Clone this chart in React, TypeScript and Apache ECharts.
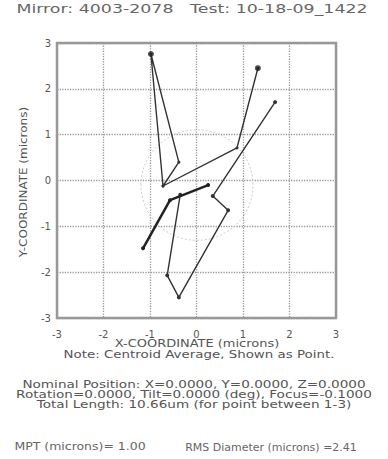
import React, { useEffect, useRef } from "react";
import * as echarts from "echarts";

const titleText = "Mirror: 4003-2078   Test: 10-18-09_1422";
const xName = "X-COORDINATE (microns)";
const yName = "Y-COORDINATE (microns)";
const noteText = "Note: Centroid Average, Shown as Point.";
// point path segments (microns)
const runA: [number, number][] = [
  [-0.72, -0.12], [-0.98, 2.76], [-0.38, 0.40], [-0.72, -0.12], [0.87, 0.71], [1.32, 2.45],
];
const runB: [number, number][] = [
  [1.69, 1.71], [0.35, -0.34], [0.68, -0.65], [-0.38, -2.55], [-0.63, -2.07], [-0.35, -0.31],
];
const runC: [number, number][] = [
  [-1.15, -1.48], [-0.57, -0.43], [0.25, -0.10],
];
const endPoints: [number, number][] = [[-0.98, 2.76], [1.32, 2.45]];
const rmsCenter: [number, number] = [0.01, -0.1];
const rmsDiameter = 2.41;
const mpt = "1.00";
const noteLines = [
  "Nominal Position: X=0.0000, Y=0.0000, Z=0.0000",
  "Rotation=0.0000, Tilt=0.0000 (deg), Focus=-0.1000",
  "Total Length: 10.66um (for point between 1-3)",
];

export default function App() {
  const ref = useRef<HTMLDivElement>(null);
  useEffect(() => {
    if (!ref.current) return;
    const chart = echarts.init(ref.current, undefined, { renderer: "svg" });
    const font = "'DejaVu Sans', sans-serif";
    const lineStyle = { color: "#333", width: 1.4 };
    const txt = (text: string, x: number, y: number, size: number, sx: number, fill = "#555", rot = 0) => ({
      type: "text", x, y, scaleX: sx, rotation: rot,
      style: { text, font: `${size}px ${font}`, fill, align: "center", verticalAlign: "middle", textAlign: "center", textVerticalAlign: "middle" },
    });
    chart.setOption({
      animation: false,
      backgroundColor: "#fff",
      textStyle: { fontFamily: font },
      grid: { left: 57, top: 43, width: 279, height: 275, show: true, borderColor: "#999", borderWidth: 2.5 },
      xAxis: {
        type: "value", min: -3, max: 3, interval: 1,
        axisLine: { show: false }, axisTick: { show: false },
        axisLabel: { fontSize: 10, color: "#555", margin: 11 },
        splitLine: { show: true, lineStyle: { color: "#999", type: "dotted", width: 1.3 } },
      },
      yAxis: {
        type: "value", min: -3, max: 3, interval: 1,
        axisLine: { show: false }, axisTick: { show: false },
        axisLabel: { fontSize: 10, color: "#555", margin: 6 },
        splitLine: { show: true, lineStyle: { color: "#999", type: "dotted", width: 1.3 } },
      },
      series: [
        {
          type: "custom",
          silent: true,
          data: [[rmsCenter[0], rmsCenter[1], rmsDiameter]],
          renderItem: (params: any, api: any) => {
            const c = api.coord([api.value(0), api.value(1)]);
            const s = api.size([api.value(2) / 2, api.value(2) / 2]);
            return {
              type: "ellipse",
              shape: { cx: c[0], cy: c[1], rx: s[0], ry: s[1] },
              style: { fill: "none", stroke: "#ccc", lineWidth: 1, lineDash: [2, 2] },
            };
          },
          z: 1,
        },
        { type: "line", data: runA, lineStyle, symbol: "circle", symbolSize: 3, itemStyle: { color: "#333" }, z: 3 },
        { type: "line", data: runB, lineStyle, symbol: "circle", symbolSize: 4, itemStyle: { color: "#333" }, z: 3 },
        { type: "line", data: runC, lineStyle: { color: "#222", width: 2.5 }, symbol: "circle", symbolSize: 4, itemStyle: { color: "#222" }, z: 4 },
        { type: "scatter", data: endPoints, symbol: "circle", symbolSize: 6, itemStyle: { color: "#222" }, z: 5 },
      ],
      graphic: [
        txt(titleText, 192, 9, 12, 1.45, "#666"),
        txt(yName, 24, 182, 10, 1.2, "#555", Math.PI / 2),
        txt(xName, 197, 344, 10, 1.3),
        txt(noteText, 199, 355, 10, 1.34),
        txt(noteLines[0], 194, 385, 10, 1.36),
        txt(noteLines[1], 194, 395, 10, 1.36),
        txt(noteLines[2], 194, 405, 10, 1.36),
        txt(`MPT (microns)= ${mpt}`, 80, 447, 10, 1.25, "#666"),
        txt(`RMS Diameter (microns) =${rmsDiameter.toFixed(2)}`, 271, 447, 10, 1.1, "#666"),
      ],
    });
    return () => chart.dispose();
  }, []);
  return <div ref={ref} style={{ position: "absolute", left: 0, top: 0, width: 388, height: 459 }} />;
}
